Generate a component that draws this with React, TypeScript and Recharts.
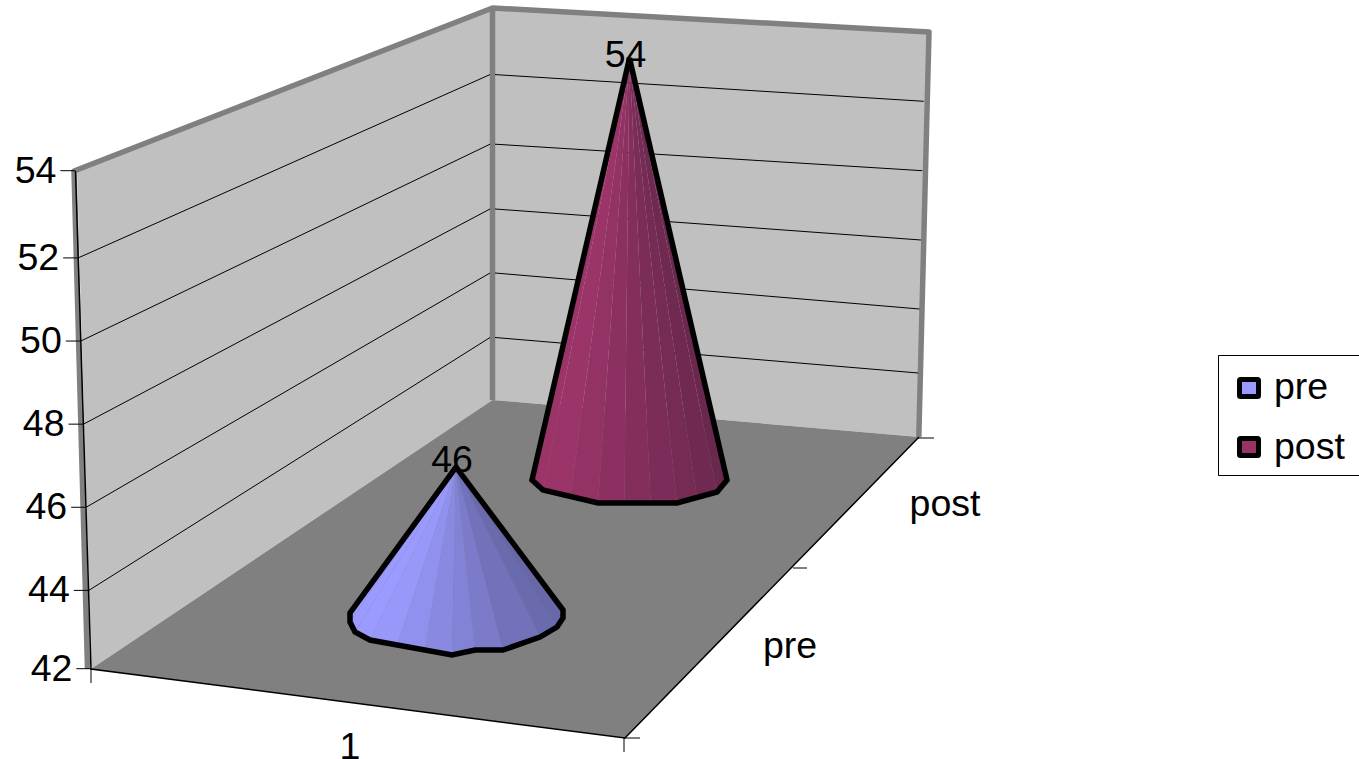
import {
  ComposedChart,
  Bar,
  XAxis,
  YAxis,
  CartesianGrid,
  Legend,
  Customized,
} from "recharts";

const FONT = "Liberation Sans, Arial, sans-serif";
const FONT_SIZE = 37.5;

const categories = ["1"];
const seriesNames = ["pre", "post"];
const seriesValues = [46, 54];
const valueTicks = [42, 44, 46, 48, 50, 52, 54];

const chartData = categories.map((cat) => {
  const row: Record<string, string | number> = { cat };
  seriesNames.forEach((name, i) => {
    row[name] = seriesValues[i];
  });
  return row;
});

// plot box of the value scale; the end ticks sit a little inside it in the picture
const BOTTOM_Y = 673.5;
const TOP_Y = 174.8;
const AXIS_TOP = 170.7;
const AXIS_BOTTOM = 668.7;

// where each cone stands on the floor, relative to the front axis
const coneStyles: Record<string, any> = {
  pre: {
    fill: "#9999ff",
    light: [154, 154, 255],
    dark: [102, 102, 168],
    dx: 98,
    dy: -60.5,
    squash: 0.878,
    labelDx: -4,
    labelDy: 5,
    outline: [
      [-106, 0], [-106, 9], [-101, 19], [-86, 27], [-4, 42], [19, 37],
      [47, 37], [84, 24], [101, 14], [107, 5], [107, -3],
    ],
  },
  post: {
    fill: "#993366",
    light: [155, 52, 104],
    dark: [106, 40, 78],
    dx: 271.5,
    dy: -193.5,
    squash: 0.846,
    labelDx: -4,
    labelDy: 9,
    outline: [
      [-97.5, 0], [-86.5, 10], [-31.5, 23], [47.5, 23], [87.5, 12], [97.5, 0],
    ],
  },
};

// y of each gridline on the back corner and at the right end of the wall
const wallGridY: Record<number, number[]> = {
  44: [337.5, 373],
  46: [273, 309],
  48: [209, 240],
  50: [144.2, 170.7],
  52: [74.6, 101.3],
};

function facetPoints(outline: number[][]) {
  const pts: number[][] = [outline[0]];
  for (let i = 1; i < outline.length; i++) {
    const [ax, ay] = outline[i - 1];
    const [bx, by] = outline[i];
    const n = Math.max(1, Math.round(Math.abs(bx - ax) / 26));
    for (let k = 1; k <= n; k++) {
      pts.push([ax + ((bx - ax) * k) / n, ay + ((by - ay) * k) / n]);
    }
  }
  return pts;
}

function Cone(props: any) {
  const { x, y, width, height, name, value } = props;
  const s = coneStyles[name];
  const cx = x + width / 2 + s.dx;
  const cy = y + height + s.dy;
  const apexY = cy - height * s.squash;
  const pts = facetPoints(s.outline);
  const minX = s.outline[0][0];
  const maxX = s.outline[s.outline.length - 1][0];
  const outlinePath = [[0, apexY - cy], ...s.outline]
    .map((p: number[]) => `${cx + p[0]},${cy + p[1]}`)
    .join(" ");
  return (
    <g>
      {pts.slice(1).map((b, i) => {
        const a = pts[i];
        const f = ((a[0] + b[0]) / 2 - minX) / (maxX - minX);
        const t = Math.max(0, (f - 0.12) / 0.88);
        const c = s.light.map((l: number, j: number) =>
          Math.round(l + (s.dark[j] - l) * t),
        );
        return (
          <polygon
            key={i}
            points={`${cx},${apexY} ${cx + a[0]},${cy + a[1]} ${cx + b[0]},${cy + b[1]}`}
            fill={`rgb(${c.join(",")})`}
          />
        );
      })}
      <text
        x={cx + s.labelDx}
        y={apexY + s.labelDy}
        textAnchor="middle"
        fontFamily={FONT}
        fontSize={FONT_SIZE}
        fill="#000"
      >
        {value}
      </text>
      <polygon
        points={outlinePath}
        fill="none"
        stroke="#000"
        strokeWidth={5.5}
        strokeLinejoin="miter"
      />
    </g>
  );
}

function valueAt(y: number) {
  return 42 + (12 * (BOTTOM_Y - y)) / (BOTTOM_Y - TOP_Y);
}

function axisX(y: number) {
  const t = (BOTTOM_Y - y) / (BOTTOM_Y - TOP_Y);
  return 91.5 - 16 * t;
}

function ValueTick(props: any) {
  const { payload } = props;
  let y = props.y;
  if (y <= TOP_Y + 1) y = AXIS_TOP;
  if (y >= BOTTOM_Y - 1) y = AXIS_BOTTOM;
  const ax = axisX(y);
  return (
    <g>
      <line x1={ax - 15} y1={y} x2={ax} y2={y} stroke="#000" strokeWidth={1} />
      <text
        x={ax - 19}
        y={y + 12}
        textAnchor="end"
        fontFamily={FONT}
        fontSize={FONT_SIZE}
        fill="#000"
      >
        {payload.value}
      </text>
    </g>
  );
}

// gridline bends round the back corner of the walls
function WallGridLine(props: any) {
  const { y1, key } = props;
  const v = Math.round(valueAt(y1));
  const wall = wallGridY[v];
  if (!wall) return <g key={key} />;
  const t = (v - 42) / 12;
  return (
    <g key={key}>
      <line x1={axisX(y1)} y1={y1} x2={490} y2={wall[0]} stroke="#000" strokeWidth={1} />
      <line x1={495} y1={wall[0]} x2={916.7 + 8.5 * t} y2={wall[1]} stroke="#000" strokeWidth={1} />
    </g>
  );
}

function CategoryTick(props: any) {
  const { x, payload } = props;
  return (
    <text
      x={x - 8}
      y={759}
      textAnchor="middle"
      fontFamily={FONT}
      fontSize={FONT_SIZE}
      fill="#000"
    >
      {payload.value}
    </text>
  );
}

const depthLabelPos = [
  { x: 790, y: 658 },
  { x: 945, y: 516 },
];

function DepthAxis() {
  const ticks = [
    [91, 669, 91, 683],
    [624, 738, 624, 752],
    [624, 738, 640, 738],
    [793, 568, 807, 568],
    [918, 438, 934, 438],
  ];
  return (
    <g>
      {ticks.map((t, i) => (
        <line key={i} x1={t[0]} y1={t[1]} x2={t[2]} y2={t[3]} stroke="#000" strokeWidth={1} />
      ))}
      {seriesNames.map((name, i) => (
        <text
          key={name}
          x={depthLabelPos[i].x}
          y={depthLabelPos[i].y}
          textAnchor="middle"
          fontFamily={FONT}
          fontSize={FONT_SIZE}
          fill="#000"
        >
          {name}
        </text>
      ))}
    </g>
  );
}

function LegendBox(props: any) {
  const items = props.payload ?? [];
  return (
    <svg width={141} height={121} style={{ display: "block" }}>
      <path d="M141,0.5 H0.5 V120.5 H141" fill="none" stroke="#000" strokeWidth={1} />
      {items.map((item: any, i: number) => (
        <g key={item.value}>
          <rect
            x={21.5}
            y={24.5 + i * 59}
            width={19}
            height={17}
            rx={1}
            fill={item.color}
            stroke="#000"
            strokeWidth={5}
            strokeLinejoin="round"
          />
          <text
            x={56}
            y={44 + i * 59.5}
            fontFamily={FONT}
            fontSize={FONT_SIZE}
            fill="#000"
          >
            {item.value}
          </text>
        </g>
      ))}
    </svg>
  );
}

function Walls() {
  return (
    <svg
      width={1359}
      height={759}
      style={{ position: "absolute", left: 0, top: 0 }}
    >
      <polygon points="77,171 492.5,8 492.5,400 91,669" fill="#c0c0c0" />
      <polygon points="492.5,8 929,32 919,437 492.5,400" fill="#c0c0c0" />
      <polygon points="91,669 492.5,400 919,437 625,738" fill="#808080" />
      <polyline
        points="87.5,669 74,171 492.5,8 929,32 918.8,437"
        fill="none"
        stroke="#808080"
        strokeWidth={5.5}
        strokeLinejoin="round"
      />
      <line x1={492.5} y1={8} x2={492.5} y2={400} stroke="#808080" strokeWidth={5.5} />
      <polyline points="75.5,171 91,669 625,738 919,437" fill="none" stroke="#000" strokeWidth={1.5} />
    </svg>
  );
}

export default function App() {
  return (
    <div
      style={{
        position: "absolute",
        left: 0,
        top: 0,
        width: 1359,
        height: 759,
        overflow: "hidden",
        background: "#fff",
      }}
    >
      <Walls />
      <ComposedChart
        width={1359}
        height={759}
        data={chartData}
        margin={{ top: TOP_Y, right: 734, bottom: 759 - BOTTOM_Y - 30, left: 0 }}
        barSize={60}
        barGap={-60}
        style={{ position: "absolute", left: 0, top: 0 }}
      >
        <CartesianGrid vertical={false} horizontal={WallGridLine as any} />
        <XAxis
          dataKey="cat"
          height={30}
          axisLine={false}
          tickLine={false}
          tick={<CategoryTick />}
        />
        <YAxis
          domain={[42, 54]}
          ticks={valueTicks}
          width={91}
          axisLine={false}
          tickLine={false}
          tick={<ValueTick />}
        />
        <Customized component={DepthAxis} />
        {seriesNames.map((name) => (
          <Bar
            key={name}
            dataKey={name}
            name={name}
            fill={coneStyles[name].fill}
            isAnimationActive={false}
            shape={(p: any) => <Cone {...p} name={name} value={p.payload[name]} />}
          />
        ))}
        <Legend
          layout="vertical"
          align="center"
          verticalAlign="middle"
          itemSorter={null}
          content={<LegendBox />}
          wrapperStyle={{ left: 1218, top: 355, width: 141, height: 121 }}
        />
      </ComposedChart>
    </div>
  );
}
